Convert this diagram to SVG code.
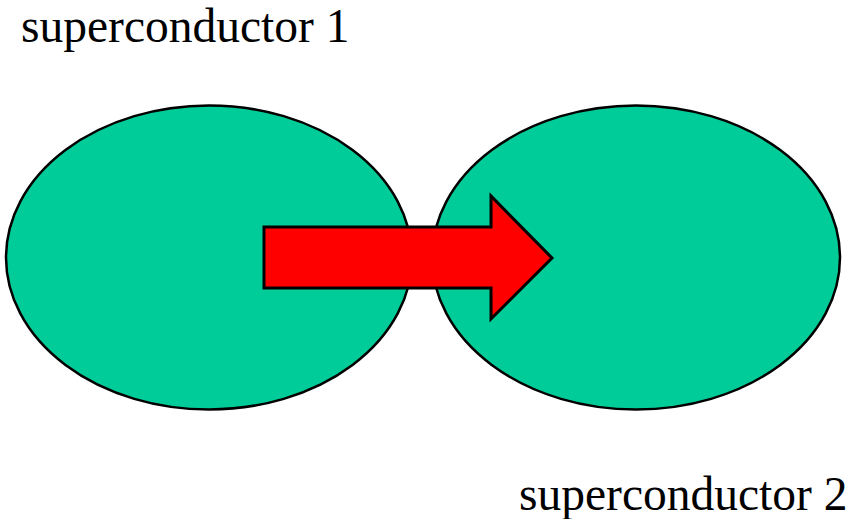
<svg xmlns="http://www.w3.org/2000/svg" width="864" height="519" viewBox="0 0 864 519">
<style>
.sc{fill:#00CC99;stroke:#000;stroke-width:2.5}
.lbl{font-family:"Liberation Serif","Times New Roman",serif;font-size:47.5px;fill:#000}
.arr{fill:#FF0000;stroke:#000;stroke-width:3;stroke-linejoin:miter}
</style>
<rect width="864" height="519" fill="#fff"/>
<g id="superconductor1">
<ellipse class="sc" cx="209" cy="257.5" rx="203" ry="152"/>
</g>
<g id="superconductor2">
<ellipse class="sc" cx="636" cy="257.5" rx="204" ry="152"/>
</g>
<g id="connectors">
<polygon class="arr" points="264,227 491,227 491,196 552,258 491,319 491,288 264,288"/>
</g>
<g id="label1"><text class="lbl" x="21" y="42">superconductor 1</text></g>
<g id="label2"><text class="lbl" x="519" y="510">superconductor 2</text></g>
</svg>
